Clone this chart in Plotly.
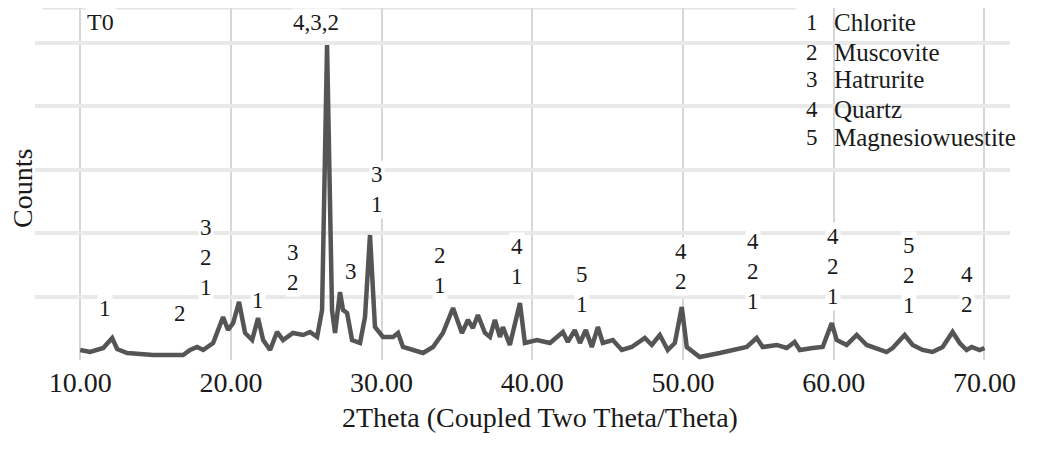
import plotly.graph_objects as go

# ---- data (2Theta in degrees, intensity in counts) ----
two_theta = [10.00, 10.66, 11.53, 11.86, 12.12, 12.45, 13.12, 14.84, 16.83, 17.29,
             17.76, 18.16, 18.82, 19.48, 19.81, 20.15, 20.54, 20.94, 21.41, 21.80,
             22.14, 22.60, 23.06, 23.46, 24.12, 24.79, 25.25, 25.72, 26.05, 26.38,
             26.71, 26.91, 27.24, 27.44, 27.71, 28.04, 28.57, 28.90, 29.23, 29.56,
             30.09, 30.76, 31.09, 31.42, 32.08, 32.75, 33.41, 34.07, 34.74, 35.33,
             35.73, 36.06, 36.39, 36.86, 37.19, 37.52, 37.85, 38.05, 38.51, 39.18,
             39.51, 40.31, 41.17, 42.03, 42.36, 42.82, 43.16, 43.55, 43.95, 44.35,
             44.68, 45.34, 45.94, 46.60, 47.47, 47.93, 48.46, 48.99, 49.46, 49.92,
             50.25, 51.11, 52.44, 53.77, 54.23, 54.89, 55.29, 56.22, 56.88, 57.41,
             57.75, 58.61, 59.27, 59.87, 60.20, 60.86, 61.53, 62.19, 62.85, 63.51,
             63.91, 64.71, 65.24, 65.90, 66.56, 67.23, 67.89, 68.36, 68.82, 69.16,
             69.68, 70.01]
counts = [158, 126, 189, 268, 347, 173, 110, 79, 79, 158,
          205, 158, 268, 678, 473, 583, 915, 426, 315, 662,
          315, 158, 442, 315, 426, 394, 442, 363, 789, 4968,
          789, 426, 1072, 789, 741, 315, 268, 678, 1971, 520,
          363, 363, 426, 205, 158, 110, 205, 426, 820, 426,
          631, 505, 710, 426, 363, 631, 363, 520, 237, 899,
          268, 315, 268, 442, 284, 473, 268, 473, 205, 520,
          268, 315, 158, 205, 347, 237, 394, 158, 268, 836,
          205, 47, 110, 189, 205, 347, 205, 237, 189, 284,
          158, 189, 205, 583, 315, 237, 394, 237, 189, 126,
          189, 394, 237, 158, 126, 205, 442, 268, 158, 205,
          158, 189]

# peak phase labels
label_x = [11.66, 16.63, 18.36, 21.80, 24.12, 25.65, 27.97, 29.69, 33.87, 38.98,
           43.29, 49.85, 54.63, 59.93, 64.97, 68.82]
label_y = [820, 741, 1624, 946, 1451, 5330, 1388, 2681, 1419, 1561,
           1104, 1467, 1403, 1467, 1340, 1104]
label_text = ["1", "2", "3<br>2<br>1", "1", "3<br>2", "4,3,2", "3", "3<br>1", "2<br>1", "4<br>1",
              "5<br>1", "4<br>2", "4<br>2<br>1", "4<br>2<br>1", "5<br>2<br>1", "4<br>2"]

phase_ids = ["1", "2", "3", "4", "5"]
phase_names = ["Chlorite", "Muscovite", "Hatrurite", "Quartz", "Magnesiowuestite"]
legend_y = [5330, 4857, 4416, 3943, 3501]

x_ticks = [10, 20, 30, 40, 50, 60, 70]
x_ticktext = ["10.00", "20.00", "30.00", "40.00", "50.00", "60.00", "70.00"]

FONT = "Liberation Serif"
TXT = "#1a1a1a"

fig = go.Figure()
fig.add_trace(go.Scatter(x=two_theta, y=counts, mode="lines",
                         line=dict(color="#555555", width=4.5, shape="linear"),
                         hoverinfo="skip", showlegend=False))

# white box behind the phase legend
fig.add_shape(type="rect", xref="paper", yref="paper", x0=0.781, x1=1.05, y0=0.582, y1=1.03,
              fillcolor="white", line=dict(width=0), layer="between")
# faint top border line
fig.add_shape(type="line", xref="paper", yref="paper", x0=0.008, x1=0.78, y0=1.0, y1=1.0,
              line=dict(color="#e4e4e4", width=3), layer="below")

for xv, yv, t in zip(label_x, label_y, label_text):
    fig.add_annotation(x=xv, y=yv, text=t, showarrow=False, xanchor="center", yanchor="middle",
                       font=dict(family=FONT, size=23, color=TXT), bgcolor="white")

fig.add_annotation(x=11.33, y=5330, text="T0", showarrow=False, xanchor="center", yanchor="middle",
                   font=dict(family=FONT, size=24, color=TXT), bgcolor="white")

for pid, name, yv in zip(phase_ids, phase_names, legend_y):
    fig.add_annotation(x=58.54, y=yv, text=pid, showarrow=False, xanchor="center", yanchor="middle",
                       font=dict(family=FONT, size=23, color=TXT))
    fig.add_annotation(x=59.87, y=yv, text=name, showarrow=False, xanchor="left", yanchor="middle",
                       font=dict(family=FONT, size=25, color=TXT))

fig.add_annotation(xref="paper", yref="paper", x=0.518, y=-0.162, text="2Theta (Coupled Two Theta/Theta)",
                   showarrow=False, xanchor="center", yanchor="middle",
                   font=dict(family=FONT, size=28, color=TXT))
fig.add_annotation(xref="paper", yref="paper", x=-0.0123, y=0.486, text="Counts", textangle=-90,
                   showarrow=False, xanchor="center", yanchor="middle",
                   font=dict(family=FONT, size=28, color=TXT))

fig.update_xaxes(range=[7.0, 71.7], tickvals=x_ticks, ticktext=x_ticktext, ticks="",
                 ticklabelstandoff=3,
                 showgrid=True, gridcolor="#d6d6d6", gridwidth=2, zeroline=False, showline=False,
                 automargin=False, tickfont=dict(family=FONT, size=28, color=TXT))
fig.update_yaxes(range=[0, 5551], dtick=1000, showticklabels=False, ticks="",
                 showgrid=True, gridcolor="#e9e9e9", gridwidth=4, zeroline=False, showline=False,
                 automargin=False)

fig.update_layout(width=1052, height=450, margin=dict(l=27, r=50, t=0, b=98),
                  paper_bgcolor="white", plot_bgcolor="white", showlegend=False)

fig.write_html("out.html")
